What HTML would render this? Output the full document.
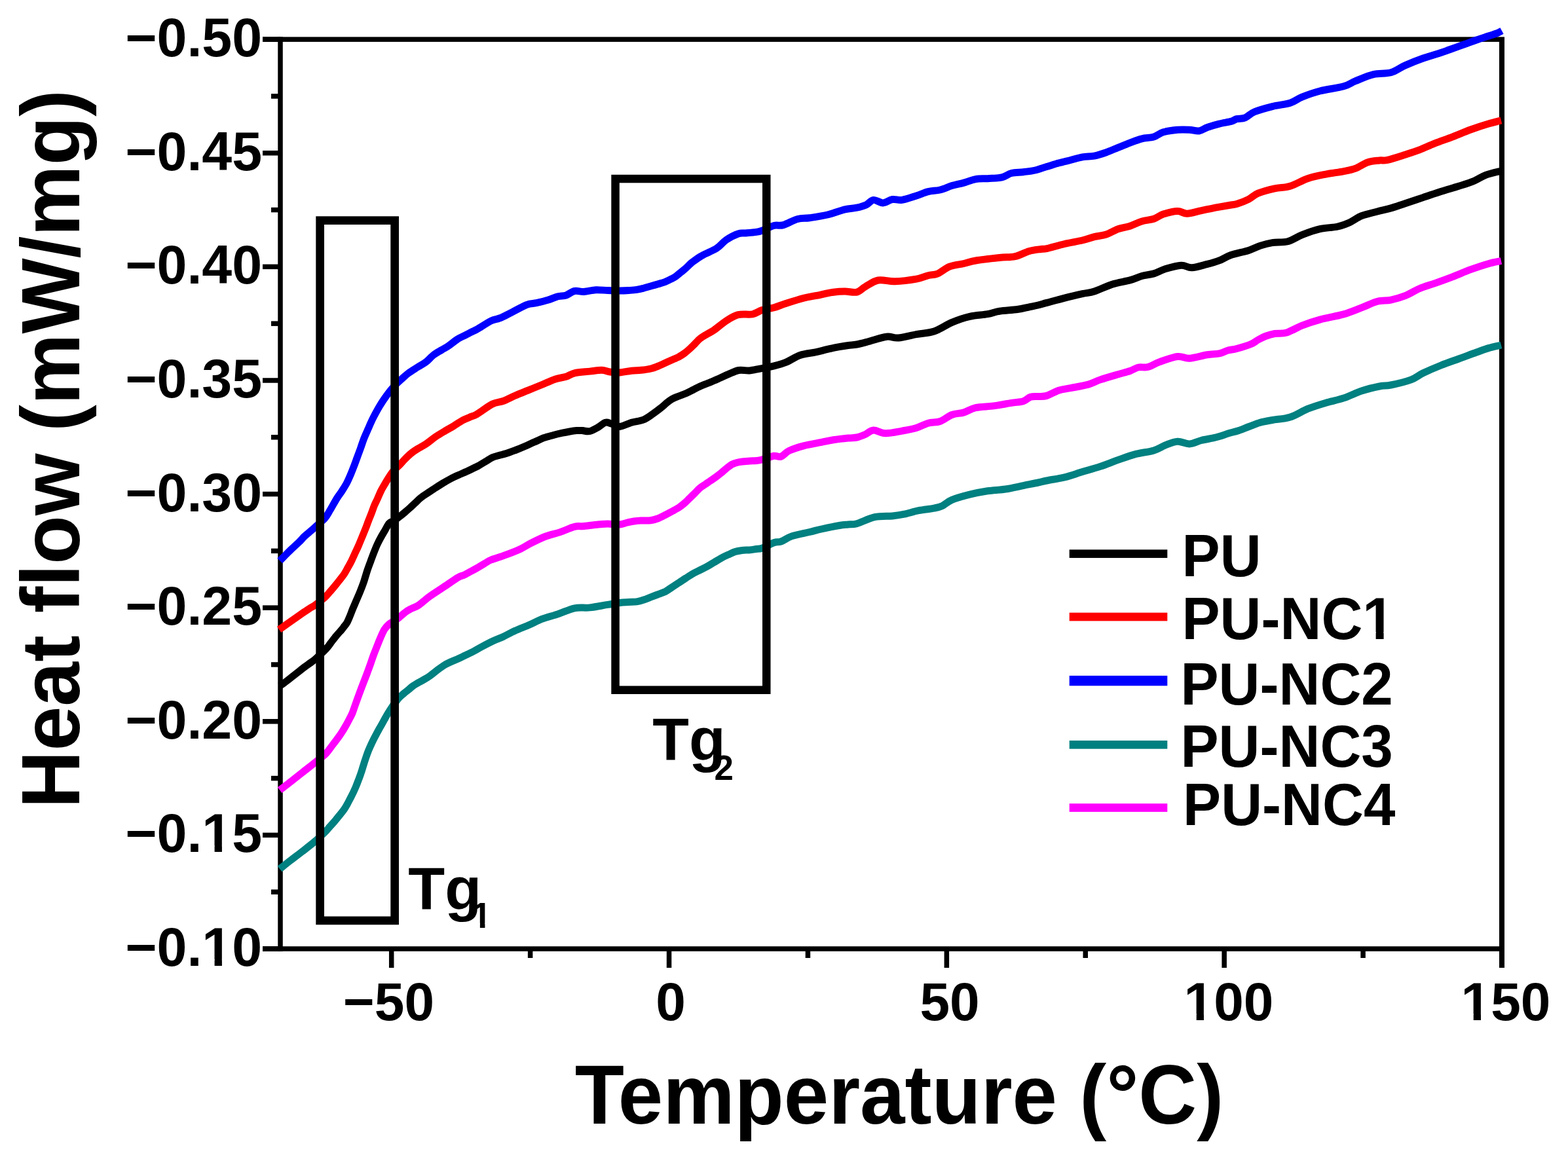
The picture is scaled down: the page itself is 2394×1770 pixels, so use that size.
<!DOCTYPE html>
<html><head><meta charset="utf-8"><title>Heat flow DSC</title>
<style>html,body{margin:0;padding:0;background:#fff;}svg{display:block;}</style>
</head><body>
<svg xmlns="http://www.w3.org/2000/svg" width="2394" height="1770" viewBox="0 0 2394 1770">
<rect width="2394" height="1770" fill="#fff"/>
<g fill="#000">
<rect x="401" y="56.40" width="1896.00" height="7.5"/>
<rect x="401" y="1445.25" width="1896.00" height="7.5"/>
<rect x="424.25" y="56.40" width="7.5" height="1396.35"/>
<rect x="2289.00" y="58.65" width="8" height="1419.35"/>
<rect x="401" y="56.40" width="27.00" height="7.5"/>
<rect x="401" y="230.00" width="27.00" height="7.5"/>
<rect x="401" y="403.61" width="27.00" height="7.5"/>
<rect x="401" y="577.22" width="27.00" height="7.5"/>
<rect x="401" y="750.82" width="27.00" height="7.5"/>
<rect x="401" y="924.42" width="27.00" height="7.5"/>
<rect x="401" y="1098.03" width="27.00" height="7.5"/>
<rect x="401" y="1271.64" width="27.00" height="7.5"/>
<rect x="401" y="1445.24" width="27.00" height="7.5"/>
<rect x="414" y="143.20" width="14.00" height="7.5"/>
<rect x="414" y="316.81" width="14.00" height="7.5"/>
<rect x="414" y="490.41" width="14.00" height="7.5"/>
<rect x="414" y="664.02" width="14.00" height="7.5"/>
<rect x="414" y="837.62" width="14.00" height="7.5"/>
<rect x="414" y="1011.23" width="14.00" height="7.5"/>
<rect x="414" y="1184.83" width="14.00" height="7.5"/>
<rect x="414" y="1358.44" width="14.00" height="7.5"/>
<rect x="593.95" y="1449.00" width="7.5" height="29.00"/>
<rect x="1017.78" y="1449.00" width="7.5" height="29.00"/>
<rect x="1441.60" y="1449.00" width="7.5" height="29.00"/>
<rect x="1865.42" y="1449.00" width="7.5" height="29.00"/>
<rect x="805.86" y="1449.00" width="7.5" height="14.00"/>
<rect x="1229.69" y="1449.00" width="7.5" height="14.00"/>
<rect x="1653.51" y="1449.00" width="7.5" height="14.00"/>
<rect x="2077.34" y="1449.00" width="7.5" height="14.00"/>
</g>
<g fill="none" stroke-width="11" stroke-linejoin="round" stroke-linecap="butt">
<path stroke="#008080" d="M427.1,1327.0C429.9,1324.8 437.9,1318.4 443.6,1314.0C449.3,1309.6 455.0,1305.4 461.3,1300.5C467.6,1295.6 475.6,1289.5 481.4,1284.5C487.2,1279.5 492.6,1274.4 496.3,1270.7C500.0,1267.0 501.1,1265.2 503.5,1262.5C505.9,1259.8 508.4,1257.1 510.8,1254.3C513.2,1251.5 515.6,1248.5 518.0,1245.5C520.4,1242.5 523.3,1239.0 525.3,1236.2C527.3,1233.4 528.5,1231.2 530.0,1228.5C531.5,1225.8 532.9,1222.9 534.4,1220.0C535.9,1217.1 537.5,1214.2 539.0,1211.0C540.5,1207.8 542.2,1204.2 543.5,1201.0C544.8,1197.8 545.8,1195.2 547.0,1192.0C548.2,1188.8 549.5,1185.7 550.7,1182.0C552.0,1178.3 553.3,1173.8 554.5,1170.0C555.7,1166.2 556.8,1162.5 558.0,1159.0C559.2,1155.5 560.3,1152.2 561.5,1149.0C562.7,1145.8 563.9,1143.2 565.3,1140.0C566.7,1136.8 568.5,1133.0 570.0,1130.0C571.5,1127.0 572.8,1124.6 574.3,1121.8C575.8,1119.0 577.5,1115.7 579.0,1113.0C580.5,1110.3 581.9,1108.1 583.4,1105.4C584.9,1102.7 586.5,1099.7 588.0,1097.0C589.5,1094.3 590.8,1091.8 592.5,1089.1C594.2,1086.3 596.2,1083.2 598.0,1080.5C599.8,1077.8 601.7,1075.4 603.5,1073.0C605.3,1070.6 606.8,1068.2 608.9,1066.0C611.0,1063.8 613.6,1061.6 616.0,1059.5C618.4,1057.4 621.1,1055.4 623.4,1053.5C625.7,1051.6 627.6,1049.8 630.0,1048.0C632.4,1046.2 635.1,1044.7 637.9,1043.0C640.7,1041.3 644.0,1039.8 647.0,1038.0C650.0,1036.2 651.0,1036.1 656.1,1032.4C661.2,1028.8 670.6,1020.5 677.9,1016.1C685.1,1011.7 694.2,1008.5 699.6,1006.0C705.0,1003.5 706.2,1002.8 710.0,1001.0C713.8,999.2 718.3,997.2 722.5,995.0C726.7,992.8 730.0,990.7 735.0,988.0C740.0,985.3 747.0,981.6 752.5,979.0C758.0,976.4 762.5,975.0 768.1,972.4C773.7,969.8 779.6,966.3 786.3,963.3C793.0,960.3 801.1,957.3 808.1,954.3C815.1,951.3 820.8,947.9 828.0,945.2C835.2,942.5 843.4,940.6 851.6,937.9C859.8,935.2 868.9,930.5 877.1,928.8C885.3,927.1 892.2,928.8 900.7,927.9C909.2,927.0 920.3,924.6 927.9,923.4C935.5,922.2 941.0,921.1 946.4,920.5C951.8,919.9 955.7,919.8 960.0,919.5C964.3,919.2 968.4,919.5 972.2,918.9C976.0,918.3 979.4,917.2 983.0,916.0C986.6,914.8 990.2,913.2 993.7,911.9C997.2,910.6 1000.4,909.4 1004.0,908.0C1007.6,906.6 1011.7,905.5 1015.2,903.8C1018.7,902.0 1021.4,899.8 1025.0,897.5C1028.6,895.2 1032.9,892.3 1036.6,889.9C1040.3,887.5 1043.4,885.3 1047.0,883.0C1050.6,880.7 1054.4,878.1 1058.1,876.0C1061.8,873.9 1065.4,872.3 1069.0,870.5C1072.6,868.7 1076.1,867.1 1079.6,865.2C1083.1,863.3 1086.4,861.1 1090.0,859.0C1093.6,856.9 1097.4,854.3 1101.1,852.3C1104.8,850.3 1108.4,848.6 1112.0,847.0C1115.6,845.4 1119.0,843.7 1122.5,842.6C1126.0,841.5 1129.4,841.0 1133.0,840.5C1136.6,840.0 1140.5,840.2 1144.0,839.9C1147.5,839.6 1150.8,839.0 1154.0,838.5C1157.2,838.0 1158.8,838.8 1163.4,837.2C1168.0,835.6 1176.8,830.5 1181.6,828.8C1186.4,827.1 1188.0,828.6 1192.5,827.0C1197.0,825.4 1201.5,821.3 1208.8,818.9C1216.1,816.5 1228.5,814.3 1236.1,812.5C1243.7,810.7 1246.6,809.7 1254.2,808.0C1261.8,806.3 1274.7,803.7 1281.5,802.5C1288.3,801.3 1290.5,801.5 1295.0,801.0C1299.5,800.5 1301.5,801.6 1308.2,799.7C1314.9,797.8 1326.3,791.7 1335.4,789.7C1344.5,787.7 1355.0,788.6 1362.6,787.9C1370.2,787.1 1374.1,786.6 1380.8,785.2C1387.5,783.8 1395.0,781.2 1402.6,779.7C1410.2,778.2 1420.2,777.3 1426.2,776.1C1432.2,774.9 1434.4,774.6 1438.9,772.5C1443.4,770.4 1446.4,766.3 1453.4,763.4C1460.4,760.5 1471.6,757.5 1480.7,755.2C1489.8,752.9 1498.8,751.2 1507.9,749.8C1517.0,748.4 1526.0,748.4 1535.1,747.0C1544.2,745.6 1554.1,743.3 1562.4,741.6C1570.7,739.9 1579.0,738.3 1585.0,737.0C1591.0,735.7 1591.5,735.4 1598.2,734.0C1604.9,732.6 1616.3,731.0 1625.4,728.8C1634.5,726.6 1643.5,723.3 1652.6,720.6C1661.7,717.9 1670.8,715.4 1679.9,712.4C1689.0,709.4 1698.0,705.6 1707.1,702.4C1716.2,699.2 1725.2,695.8 1734.3,693.4C1743.4,691.0 1754.0,690.2 1761.6,687.9C1769.2,685.6 1773.7,682.0 1779.7,679.7C1785.8,677.4 1791.8,674.6 1797.9,674.3C1804.0,674.0 1810.0,678.2 1816.1,677.9C1822.1,677.6 1828.2,674.0 1834.2,672.5C1840.2,671.0 1847.5,670.0 1852.4,668.9C1857.3,667.8 1859.6,667.1 1863.4,666.0C1867.2,664.9 1870.5,663.4 1875.0,662.0C1879.5,660.6 1885.3,659.5 1890.6,657.7C1895.9,656.0 1901.5,653.5 1907.0,651.5C1912.5,649.5 1917.4,647.2 1923.3,645.5C1929.2,643.8 1934.8,642.9 1942.6,641.5C1950.4,640.1 1960.8,639.9 1969.9,637.0C1979.0,634.1 1988.0,627.8 1997.1,624.2C2006.2,620.6 2015.2,617.9 2024.3,615.2C2033.4,612.5 2042.5,610.9 2051.6,607.9C2060.7,604.9 2069.7,600.0 2078.8,597.0C2087.9,594.0 2098.6,591.5 2106.1,590.0C2113.6,588.5 2115.5,589.7 2123.6,588.0C2131.7,586.3 2146.3,582.8 2154.5,579.8C2162.7,576.8 2165.1,573.4 2172.7,569.8C2180.3,566.2 2190.8,561.6 2199.9,558.0C2209.0,554.4 2218.1,551.3 2227.2,548.0C2236.3,544.7 2246.8,540.7 2254.4,538.0C2262.0,535.3 2266.3,533.4 2272.6,531.6C2278.9,529.8 2288.8,527.8 2292.0,527.0"/>
<path stroke="#FF00FF" d="M427.1,1206.7C429.9,1204.6 437.9,1198.5 443.6,1194.0C449.3,1189.5 455.0,1185.0 461.3,1180.0C467.6,1175.0 475.3,1169.1 481.4,1164.2C487.5,1159.3 493.6,1154.8 497.9,1150.5C502.2,1146.2 503.8,1142.9 507.2,1138.5C510.6,1134.1 515.3,1127.9 518.1,1124.0C520.9,1120.1 522.2,1117.9 524.0,1115.0C525.8,1112.1 527.3,1109.5 529.0,1106.5C530.7,1103.5 532.5,1099.9 534.0,1097.0C535.5,1094.1 536.7,1092.1 538.0,1089.0C539.3,1085.9 540.0,1083.2 541.7,1078.5C543.4,1073.8 545.9,1066.8 548.0,1061.0C550.1,1055.2 552.4,1049.2 554.4,1044.0C556.4,1038.8 558.2,1034.3 560.0,1029.5C561.8,1024.7 563.5,1019.9 565.3,1015.0C567.0,1010.1 568.7,1004.9 570.5,1000.0C572.3,995.1 574.4,990.1 576.2,985.5C578.0,980.9 579.7,976.6 581.5,972.5C583.3,968.4 585.0,964.2 587.1,961.0C589.2,957.8 591.9,955.1 594.3,953.0C596.7,950.9 599.1,950.1 601.5,948.5C603.9,946.9 605.9,945.8 608.9,943.4C611.9,941.0 616.5,936.7 619.7,934.4C622.9,932.1 625.0,931.1 628.0,929.5C631.0,927.9 634.7,926.9 637.9,925.0C641.1,923.1 644.0,920.4 647.0,918.0C650.0,915.6 651.0,914.3 656.1,910.7C661.2,907.1 670.6,901.0 677.9,896.2C685.1,891.4 694.4,884.7 699.6,881.7C704.8,878.7 705.6,879.6 709.0,878.0C712.4,876.4 716.5,873.9 720.0,872.0C723.5,870.1 726.7,868.4 730.0,866.5C733.3,864.6 736.7,862.4 740.0,860.5C743.3,858.6 745.1,856.9 749.8,855.0C754.5,853.1 761.1,851.4 768.1,848.9C775.1,846.4 784.4,843.1 791.7,839.8C799.0,836.5 804.7,832.5 811.7,829.0C818.7,825.5 826.2,821.7 833.5,819.0C840.8,816.3 848.0,815.0 855.3,812.6C862.6,810.2 871.0,805.9 877.1,804.4C883.2,802.9 885.2,804.1 891.6,803.5C898.0,802.9 909.2,801.4 915.2,800.8C921.2,800.2 922.8,799.9 927.9,799.9C933.0,799.9 941.1,801.3 946.1,801.0C951.1,800.7 954.4,798.8 958.0,798.0C961.6,797.2 964.5,796.5 968.0,796.0C971.5,795.5 974.5,795.2 978.7,795.0C982.9,794.8 989.1,795.2 993.3,794.7C997.5,794.2 1000.4,793.3 1004.0,792.0C1007.6,790.7 1011.7,788.5 1015.2,786.7C1018.7,785.0 1021.4,783.5 1025.0,781.5C1028.6,779.5 1033.3,777.2 1036.6,775.0C1039.9,772.8 1042.3,770.8 1045.0,768.5C1047.7,766.2 1050.1,763.6 1052.8,761.0C1055.5,758.4 1058.3,755.7 1061.0,753.0C1063.7,750.3 1066.2,747.2 1068.9,745.0C1071.6,742.8 1074.3,741.3 1077.0,739.5C1079.7,737.7 1082.3,735.8 1085.0,734.0C1087.7,732.2 1090.3,730.5 1093.0,728.5C1095.7,726.5 1098.4,724.5 1101.1,722.3C1103.8,720.1 1106.3,717.6 1109.0,715.5C1111.7,713.4 1114.5,710.9 1117.2,709.4C1119.9,707.9 1122.3,707.2 1125.0,706.5C1127.7,705.8 1129.9,705.4 1133.3,705.0C1136.7,704.6 1141.7,704.2 1145.3,704.0C1148.9,703.8 1151.8,703.8 1154.8,703.5C1157.8,703.2 1158.9,703.2 1163.4,702.0C1167.9,700.8 1176.8,697.1 1181.6,696.3C1186.4,695.5 1188.6,698.6 1192.5,697.2C1196.4,695.8 1199.5,690.8 1205.2,688.1C1211.0,685.4 1218.8,682.9 1227.0,680.8C1235.2,678.7 1246.6,676.9 1254.2,675.4C1261.8,673.9 1265.6,672.9 1272.4,671.8C1279.2,670.7 1289.0,669.6 1295.0,669.0C1301.0,668.4 1303.9,668.9 1308.2,668.0C1312.5,667.1 1316.7,665.3 1320.9,663.5C1325.1,661.7 1328.5,657.4 1333.6,657.1C1338.7,656.8 1344.4,661.5 1351.7,661.7C1359.0,661.9 1369.3,659.5 1377.2,658.1C1385.1,656.7 1392.3,655.5 1399.0,653.5C1405.7,651.5 1411.0,648.0 1417.1,646.3C1423.1,644.6 1429.2,645.6 1435.3,643.5C1441.3,641.4 1447.4,635.8 1453.4,633.5C1459.5,631.2 1465.5,631.7 1471.6,629.9C1477.6,628.1 1482.1,624.3 1489.7,622.6C1497.3,620.9 1507.9,621.1 1517.0,619.9C1526.1,618.7 1536.6,616.6 1544.2,615.4C1551.8,614.2 1557.6,614.2 1562.4,612.7C1567.2,611.2 1569.5,607.5 1573.3,606.3C1577.1,605.1 1580.8,605.8 1585.0,605.5C1589.2,605.2 1593.0,605.9 1598.2,604.4C1603.4,602.9 1610.2,598.2 1616.3,596.2C1622.3,594.2 1626.9,594.1 1634.5,592.6C1642.1,591.1 1654.1,589.2 1661.7,587.1C1669.3,585.0 1672.3,582.5 1679.9,579.9C1687.5,577.3 1699.5,573.9 1707.1,571.7C1714.7,569.5 1720.1,568.3 1725.3,566.5C1730.5,564.7 1733.5,562.0 1738.0,561.0C1742.5,560.0 1747.0,561.9 1752.5,560.5C1758.0,559.1 1763.1,555.3 1770.7,552.6C1778.3,549.9 1790.3,545.4 1797.9,544.5C1805.5,543.6 1808.5,547.7 1816.1,547.2C1823.7,546.7 1835.7,542.9 1843.3,541.7C1850.9,540.5 1856.2,541.0 1861.5,539.9C1866.8,538.8 1870.5,536.2 1875.0,535.0C1879.5,533.8 1882.4,534.1 1888.2,532.5C1894.0,530.9 1904.6,527.8 1910.0,525.5C1915.4,523.2 1917.1,521.0 1920.8,519.0C1924.5,517.0 1927.8,515.1 1932.0,513.5C1936.2,511.9 1940.9,510.4 1946.3,509.5C1951.7,508.6 1957.5,510.1 1964.4,508.0C1971.4,505.9 1979.5,500.4 1988.0,497.1C1996.5,493.8 2004.7,491.0 2015.3,488.1C2025.9,485.2 2041.0,482.9 2051.6,479.9C2062.2,476.9 2070.3,473.1 2078.8,469.9C2087.3,466.7 2094.9,462.5 2102.4,460.5C2109.9,458.5 2116.4,459.6 2123.6,458.1C2130.8,456.6 2138.1,454.6 2145.4,451.7C2152.7,448.8 2159.6,444.0 2167.2,440.8C2174.8,437.6 2182.3,435.6 2190.8,432.6C2199.3,429.6 2209.0,426.1 2218.1,422.6C2227.2,419.1 2236.2,415.0 2245.3,411.7C2254.4,408.4 2264.8,404.9 2272.6,402.7C2280.4,400.5 2288.8,399.2 2292.0,398.5"/>
<path stroke="#000000" d="M427.6,1047.4C429.5,1046.0 435.1,1042.1 439.1,1039.0C443.1,1035.9 447.6,1032.3 451.8,1029.0C456.0,1025.7 460.6,1021.9 464.5,1019.0C468.4,1016.1 472.1,1013.7 475.0,1011.5C477.9,1009.3 478.1,1009.5 482.0,1006.0C485.9,1002.5 494.4,994.5 498.1,990.6C501.9,986.7 502.4,985.2 504.5,982.5C506.6,979.8 508.9,976.7 510.8,974.3C512.7,971.9 514.2,970.1 516.0,968.0C517.8,965.9 520.0,963.6 521.7,961.6C523.4,959.6 524.6,957.8 526.0,956.0C527.4,954.2 528.5,953.3 529.9,950.7C531.3,948.1 532.9,944.1 534.4,940.5C535.9,936.9 537.2,933.0 538.9,929.0C540.6,925.0 542.6,920.5 544.4,916.2C546.2,912.0 548.0,908.0 549.8,903.5C551.6,899.0 553.5,894.3 555.3,889.0C557.1,883.7 558.9,877.0 560.7,871.5C562.5,866.0 564.4,861.2 566.2,856.3C568.0,851.4 569.9,846.2 571.6,842.0C573.3,837.8 574.5,834.6 576.2,831.0C577.9,827.4 579.6,824.1 581.6,820.5C583.6,816.9 585.9,813.1 588.0,809.5C590.1,805.9 592.0,801.4 594.3,799.0C596.6,796.6 599.4,796.7 602.0,795.0C604.6,793.3 607.3,791.1 610.0,789.0C612.7,786.9 615.3,784.8 618.0,782.5C620.7,780.2 623.3,777.9 626.0,775.5C628.7,773.1 631.3,770.5 634.0,768.0C636.7,765.5 639.0,762.9 642.0,760.5C645.0,758.1 648.3,756.0 652.0,753.5C655.7,751.0 660.2,748.1 664.2,745.5C668.2,742.9 672.0,740.4 676.0,738.0C680.0,735.6 684.4,733.1 688.4,731.0C692.4,728.9 696.0,727.3 700.0,725.5C704.0,723.7 708.6,721.8 712.6,720.0C716.6,718.2 721.1,715.9 724.0,714.5C726.9,713.1 727.2,713.2 730.0,711.6C732.8,710.0 737.4,707.1 741.0,705.0C744.6,702.9 748.0,700.3 751.5,698.7C755.0,697.1 758.4,696.5 762.0,695.5C765.6,694.5 768.8,693.8 773.0,692.5C777.2,691.2 782.2,689.3 787.0,687.5C791.8,685.7 796.8,683.6 801.6,681.5C806.4,679.4 811.2,677.1 816.0,675.0C820.8,672.9 825.4,670.5 830.2,668.7C835.0,667.0 840.2,665.8 845.0,664.5C849.8,663.2 854.6,662.1 858.8,661.2C863.0,660.3 866.4,659.6 870.0,659.0C873.6,658.4 877.0,657.9 880.3,657.6C883.6,657.4 888.1,657.4 890.0,657.5C891.9,657.6 889.8,657.8 891.6,658.0C893.4,658.2 897.1,659.4 900.7,658.5C904.3,657.6 909.5,654.6 913.4,652.4C917.3,650.2 921.0,646.1 924.3,645.2C927.6,644.3 929.8,646.0 933.4,647.0C937.0,648.0 941.0,651.8 946.1,651.5C951.2,651.2 958.2,647.0 964.2,645.2C970.2,643.5 977.0,643.2 982.4,641.0C987.8,638.8 992.4,635.1 996.9,632.0C1001.4,628.9 1006.0,625.3 1009.6,622.5C1013.2,619.7 1015.5,617.2 1018.2,615.0C1020.9,612.8 1022.9,611.2 1025.9,609.5C1028.9,607.8 1032.7,606.5 1036.3,605.0C1039.9,603.5 1043.8,602.3 1047.4,600.7C1051.0,599.1 1054.4,597.3 1058.0,595.5C1061.6,593.7 1065.2,591.7 1068.9,590.0C1072.6,588.3 1076.4,587.0 1080.0,585.5C1083.6,584.0 1087.0,582.7 1090.3,581.3C1093.6,579.9 1096.4,578.6 1100.0,577.0C1103.6,575.4 1107.1,573.6 1111.8,571.7C1116.5,569.8 1122.5,566.5 1127.9,565.5C1133.3,564.5 1138.6,566.4 1144.0,566.0C1149.4,565.6 1153.8,564.3 1160.1,563.1C1166.4,561.9 1175.0,560.4 1181.6,558.8C1188.2,557.2 1193.0,556.1 1199.7,553.4C1206.4,550.7 1213.9,545.1 1221.5,542.5C1229.1,539.9 1238.1,539.4 1245.1,537.9C1252.1,536.4 1257.2,534.8 1263.3,533.4C1269.4,532.0 1276.2,530.7 1281.5,529.7C1286.8,528.7 1290.5,528.1 1295.0,527.5C1299.5,526.9 1303.0,527.0 1308.2,526.0C1313.4,525.0 1318.7,523.5 1326.3,521.5C1333.9,519.5 1346.0,515.1 1353.6,514.2C1361.2,513.3 1364.1,516.6 1371.7,516.0C1379.3,515.4 1389.9,512.3 1399.0,510.6C1408.1,508.9 1417.1,509.0 1426.2,506.0C1435.3,503.0 1444.3,496.2 1453.4,492.4C1462.5,488.6 1471.6,485.5 1480.7,483.4C1489.8,481.3 1500.3,481.1 1507.9,479.7C1515.5,478.3 1518.5,476.4 1526.1,475.2C1533.7,474.0 1545.7,473.6 1553.3,472.5C1560.9,471.4 1566.2,469.9 1571.5,468.8C1576.8,467.7 1580.5,467.1 1585.0,466.0C1589.5,464.9 1591.5,464.2 1598.2,462.4C1604.9,460.6 1616.3,457.4 1625.4,455.1C1634.5,452.8 1645.0,450.4 1652.6,448.7C1660.2,447.0 1663.2,447.5 1670.8,445.1C1678.4,442.7 1688.9,437.1 1698.0,434.2C1707.1,431.3 1717.7,430.0 1725.3,427.9C1732.9,425.8 1737.4,423.2 1743.4,421.5C1749.5,419.8 1755.5,419.7 1761.6,417.9C1767.6,416.1 1772.7,412.7 1779.7,410.6C1786.7,408.5 1796.7,405.5 1803.4,405.2C1810.1,404.9 1813.1,409.1 1819.7,408.8C1826.3,408.5 1836.3,405.2 1843.3,403.4C1850.3,401.6 1855.5,400.2 1861.5,397.9C1867.5,395.6 1871.8,392.1 1879.3,389.5C1886.8,386.9 1898.8,384.8 1906.3,382.4C1913.8,380.0 1918.5,377.1 1924.5,375.1C1930.5,373.1 1935.6,371.7 1942.6,370.6C1949.5,369.5 1958.6,370.7 1966.2,368.7C1973.8,366.7 1979.8,361.9 1988.0,358.7C1996.2,355.5 2006.2,351.8 2015.3,349.7C2024.4,347.6 2034.9,347.7 2042.5,346.0C2050.1,344.3 2054.6,342.4 2060.7,339.7C2066.8,337.0 2071.8,332.5 2078.8,329.7C2085.9,326.9 2095.5,325.0 2103.0,323.0C2110.5,321.0 2116.5,319.9 2123.6,317.9C2130.7,315.8 2137.2,313.4 2145.4,310.7C2153.6,308.0 2163.6,304.6 2172.7,301.6C2181.8,298.6 2190.8,295.4 2199.9,292.5C2209.0,289.6 2218.7,287.0 2227.2,284.3C2235.7,281.6 2243.9,279.1 2250.8,276.2C2257.8,273.3 2262.0,269.6 2268.9,267.1C2275.8,264.6 2288.2,262.0 2292.0,261.0"/>
<path stroke="#FF0000" d="M426.1,961.5C428.1,960.1 434.2,955.8 438.2,953.0C442.2,950.2 446.3,947.3 450.3,944.5C454.3,941.7 458.4,938.8 462.4,936.0C466.4,933.2 471.3,930.1 474.5,928.0C477.7,925.9 478.1,926.3 481.7,923.6C485.3,920.9 492.7,915.3 496.3,912.0C499.9,908.7 501.1,906.8 503.5,904.0C505.9,901.2 508.4,898.4 510.8,895.5C513.2,892.6 515.6,889.6 518.0,886.5C520.4,883.4 523.1,880.2 525.3,877.0C527.5,873.8 529.2,870.2 531.0,867.0C532.8,863.8 534.5,861.0 536.2,857.5C538.0,854.0 539.7,849.9 541.5,846.0C543.3,842.1 545.3,838.2 547.1,834.0C548.9,829.8 550.7,825.4 552.5,821.0C554.3,816.6 556.3,811.8 558.0,807.5C559.7,803.2 561.0,799.4 562.5,795.5C564.0,791.6 565.6,787.9 567.1,784.0C568.6,780.1 570.0,775.7 571.5,772.0C573.0,768.3 574.5,765.7 576.2,762.0C577.9,758.3 579.7,753.7 581.5,750.0C583.3,746.3 585.3,743.2 587.1,740.0C588.9,736.8 590.7,733.9 592.5,731.0C594.3,728.1 596.1,725.0 598.0,722.5C599.9,720.0 601.9,718.2 604.0,716.0C606.1,713.8 608.5,711.8 610.7,709.5C612.9,707.2 614.9,704.7 617.0,702.5C619.1,700.3 621.2,698.1 623.4,696.1C625.6,694.1 627.6,692.3 630.0,690.5C632.4,688.7 634.5,687.3 637.9,685.2C641.3,683.1 646.1,680.9 650.6,677.9C655.1,674.9 660.2,670.3 665.1,667.0C670.0,663.7 675.2,660.7 679.7,658.0C684.2,655.3 687.9,653.4 692.4,650.7C696.9,648.0 702.4,644.0 706.9,641.6C711.4,639.2 716.0,637.7 719.6,636.2C723.2,634.7 722.8,635.7 728.2,632.5C733.6,629.3 745.1,620.3 751.8,617.0C758.4,613.7 762.4,614.6 768.1,612.5C773.9,610.4 779.9,607.0 786.3,604.3C792.6,601.6 799.6,598.8 806.2,596.1C812.9,593.4 819.2,590.9 826.2,588.0C833.2,585.1 841.6,581.0 848.0,578.9C854.4,576.8 859.4,576.8 864.3,575.3C869.1,573.8 871.0,571.2 877.1,569.8C883.2,568.4 893.8,567.9 900.7,567.1C907.7,566.4 913.7,565.1 918.8,565.3C923.9,565.4 927.0,567.4 931.5,568.0C936.0,568.6 940.6,569.2 946.1,568.9C951.6,568.6 958.8,566.8 964.2,566.2C969.6,565.6 973.8,565.8 978.7,565.3C983.6,564.8 989.5,564.0 993.7,563.0C997.9,562.0 1000.4,560.9 1004.0,559.5C1007.6,558.1 1011.7,556.1 1015.2,554.5C1018.7,552.9 1021.4,551.6 1025.0,550.0C1028.6,548.4 1033.3,546.5 1036.6,544.8C1039.9,543.0 1042.3,541.5 1045.0,539.5C1047.7,537.5 1050.1,535.4 1052.8,533.0C1055.5,530.6 1058.3,527.7 1061.0,525.0C1063.7,522.3 1065.7,519.5 1068.9,517.0C1072.1,514.5 1076.4,512.2 1080.0,510.0C1083.6,507.8 1085.5,507.4 1090.3,504.0C1095.1,500.6 1102.9,493.7 1109.0,489.8C1115.1,485.9 1120.4,482.4 1127.1,480.7C1133.8,479.0 1142.9,481.0 1148.9,479.8C1155.0,478.6 1158.0,475.2 1163.4,473.5C1168.9,471.8 1175.5,471.5 1181.6,469.8C1187.6,468.1 1192.1,465.9 1199.7,463.5C1207.3,461.1 1219.4,457.3 1227.0,455.3C1234.6,453.3 1237.5,453.2 1245.1,451.7C1252.7,450.2 1264.9,447.3 1272.4,446.2C1279.9,445.1 1284.0,445.0 1290.0,445.0C1296.0,445.0 1303.0,447.3 1308.2,446.1C1313.4,444.9 1315.5,441.0 1320.9,438.0C1326.3,435.0 1333.2,429.4 1340.8,428.0C1348.4,426.6 1356.6,430.1 1366.3,429.8C1376.0,429.5 1390.5,427.7 1399.0,426.2C1407.5,424.7 1411.7,422.1 1417.1,420.7C1422.5,419.3 1426.1,420.3 1431.6,418.0C1437.0,415.7 1443.1,409.7 1449.8,407.1C1456.5,404.5 1464.9,404.0 1471.6,402.5C1478.2,401.0 1480.6,399.5 1489.7,398.0C1498.8,396.5 1516.1,394.6 1526.1,393.5C1536.1,392.4 1542.1,393.4 1549.7,391.7C1557.3,390.0 1564.8,385.4 1571.5,383.5C1578.2,381.6 1585.1,381.1 1589.6,380.5C1594.0,379.9 1592.2,381.0 1598.2,379.7C1604.2,378.4 1616.3,374.6 1625.4,372.5C1634.5,370.4 1645.0,368.8 1652.6,367.0C1660.2,365.2 1664.7,363.1 1670.8,361.6C1676.9,360.1 1683.0,360.0 1689.0,358.0C1695.0,356.0 1701.0,351.9 1707.1,349.8C1713.1,347.7 1719.2,347.2 1725.3,345.2C1731.3,343.2 1737.4,339.8 1743.4,338.0C1749.5,336.2 1756.1,336.1 1761.6,334.3C1767.0,332.5 1770.0,329.1 1776.1,327.1C1782.1,325.1 1791.9,322.6 1797.9,322.5C1804.0,322.4 1806.4,326.3 1812.4,326.2C1818.5,326.1 1826.0,323.3 1834.2,321.6C1842.4,319.9 1853.9,317.6 1861.5,316.2C1869.1,314.8 1875.1,313.8 1879.6,313.0C1884.0,312.2 1883.8,312.9 1888.2,311.5C1892.7,310.1 1900.9,307.0 1906.3,304.3C1911.7,301.6 1914.1,297.9 1920.8,295.2C1927.5,292.5 1938.1,289.7 1946.3,287.9C1954.5,286.1 1961.4,286.9 1969.9,284.3C1978.4,281.7 1988.0,275.5 1997.1,272.5C2006.2,269.5 2015.2,267.9 2024.3,266.1C2033.4,264.3 2044.0,263.1 2051.6,261.6C2059.2,260.1 2063.6,259.4 2069.7,257.1C2075.8,254.8 2081.8,250.0 2087.9,248.0C2094.0,246.0 2101.1,245.6 2106.1,245.0C2111.1,244.4 2111.6,245.9 2118.2,244.4C2124.8,242.9 2137.2,238.8 2145.4,236.2C2153.6,233.6 2159.6,231.8 2167.2,228.9C2174.8,226.0 2182.3,222.2 2190.8,218.9C2199.3,215.6 2209.0,212.4 2218.1,208.9C2227.2,205.4 2236.2,201.3 2245.3,198.0C2254.4,194.7 2264.8,191.3 2272.6,189.0C2280.4,186.7 2288.8,184.8 2292.0,184.0"/>
<path stroke="#0000FF" d="M427.3,856.3C428.8,854.8 433.3,850.2 436.0,847.5C438.7,844.8 440.2,843.1 443.6,839.9C447.0,836.7 452.7,831.6 456.3,828.1C459.9,824.6 462.0,821.9 465.0,819.0C468.0,816.1 471.7,813.3 474.5,810.9C477.3,808.5 478.1,807.8 481.7,804.5C485.3,801.2 492.6,795.2 496.3,791.0C500.0,786.8 501.0,784.0 504.0,779.0C507.0,774.0 511.4,765.8 514.4,761.0C517.4,756.2 519.6,753.8 522.0,750.0C524.4,746.2 526.8,742.6 529.0,738.5C531.2,734.4 533.2,729.7 535.0,725.5C536.8,721.3 538.1,717.8 539.8,713.5C541.5,709.2 543.2,704.4 545.0,699.5C546.8,694.6 548.9,689.1 550.7,684.0C552.5,678.9 554.2,673.6 556.0,669.0C557.8,664.4 559.9,659.9 561.6,656.1C563.3,652.3 564.5,649.3 566.0,646.0C567.5,642.7 568.4,640.6 570.7,636.2C573.0,631.8 576.5,625.2 579.8,619.8C583.1,614.3 587.1,608.5 590.7,603.5C594.3,598.5 598.0,594.0 601.6,590.0C605.2,586.0 608.9,582.8 612.5,579.5C616.1,576.2 619.2,573.2 623.4,570.0C627.6,566.8 633.4,563.4 637.9,560.5C642.4,557.6 646.7,555.6 650.6,552.6C654.5,549.6 657.6,545.5 661.5,542.5C665.4,539.5 670.3,536.9 674.2,534.5C678.1,532.1 681.2,530.7 685.1,528.0C689.0,525.3 693.6,521.2 697.8,518.5C702.0,515.8 706.9,513.7 710.5,511.8C714.1,509.9 716.5,508.8 719.6,507.2C722.7,505.6 723.9,505.4 729.0,502.5C734.1,499.6 744.1,492.8 750.0,489.9C755.9,487.0 759.1,487.7 764.5,485.4C769.9,483.1 776.0,479.6 782.6,476.3C789.2,473.0 798.3,467.7 804.4,465.4C810.5,463.1 813.5,463.9 819.0,462.7C824.5,461.5 831.7,459.8 837.1,458.1C842.5,456.4 847.1,453.9 851.6,452.7C856.1,451.5 860.0,452.3 864.3,450.9C868.5,449.5 872.5,445.4 877.1,444.5C881.7,443.6 886.2,445.7 891.6,445.4C897.0,445.1 903.7,443.0 909.7,442.7C915.8,442.4 921.8,443.4 927.9,443.6C934.0,443.8 940.8,444.0 946.1,444.0C951.5,444.0 955.6,443.8 960.0,443.5C964.4,443.2 968.4,443.0 972.2,442.4C976.0,441.8 979.4,440.9 983.0,440.0C986.6,439.1 990.2,438.0 993.7,437.0C997.2,436.0 1000.4,435.1 1004.0,434.0C1007.6,432.9 1011.7,431.9 1015.2,430.6C1018.7,429.3 1022.3,427.4 1025.0,426.0C1027.7,424.6 1028.8,424.2 1031.3,422.5C1033.8,420.8 1037.3,417.7 1040.0,415.5C1042.7,413.3 1044.7,411.8 1047.2,409.5C1049.7,407.2 1052.6,404.1 1055.0,402.0C1057.4,399.9 1059.4,398.7 1061.7,397.0C1064.0,395.3 1066.6,393.5 1069.0,392.0C1071.4,390.5 1072.1,390.2 1076.3,388.0C1080.5,385.8 1089.0,382.6 1094.4,379.0C1099.9,375.4 1103.5,370.0 1109.0,366.3C1114.5,362.6 1122.1,358.7 1127.1,357.0C1132.0,355.3 1134.1,356.4 1138.7,356.0C1143.3,355.6 1150.7,355.0 1154.8,354.4C1158.9,353.8 1158.9,353.8 1163.4,352.2C1167.9,350.6 1176.1,345.9 1181.6,344.5C1187.0,343.1 1190.0,345.3 1196.1,343.6C1202.1,341.9 1211.2,336.3 1217.9,334.5C1224.6,332.7 1228.5,333.8 1236.1,332.7C1243.7,331.6 1254.3,330.1 1263.3,328.0C1272.3,325.9 1282.5,321.7 1290.0,319.9C1297.5,318.1 1302.8,318.4 1308.2,317.2C1313.7,316.0 1318.5,314.7 1322.7,312.7C1326.9,310.7 1329.4,305.9 1333.6,305.4C1337.8,304.9 1343.3,310.0 1348.1,309.9C1352.9,309.8 1357.8,305.2 1362.6,304.5C1367.4,303.8 1371.1,306.3 1377.2,305.4C1383.3,304.5 1392.3,301.1 1399.0,299.0C1405.7,296.9 1411.0,294.2 1417.1,292.7C1423.1,291.2 1429.2,291.5 1435.3,290.0C1441.3,288.5 1447.4,285.4 1453.4,283.6C1459.5,281.8 1465.5,280.8 1471.6,279.1C1477.6,277.4 1483.7,274.7 1489.7,273.6C1495.8,272.5 1501.2,273.1 1507.9,272.7C1514.6,272.2 1523.7,272.3 1529.7,270.9C1535.8,269.5 1538.8,265.9 1544.2,264.5C1549.7,263.1 1556.4,263.4 1562.4,262.7C1568.5,261.9 1574.5,261.4 1580.5,260.0C1586.5,258.6 1592.2,256.3 1598.2,254.5C1604.2,252.7 1610.2,250.7 1616.3,249.0C1622.3,247.3 1628.5,246.0 1634.5,244.5C1640.5,243.0 1646.5,241.0 1652.6,239.9C1658.6,238.8 1664.7,239.3 1670.8,238.1C1676.9,236.9 1683.0,234.8 1689.0,232.7C1695.0,230.6 1701.0,227.8 1707.1,225.4C1713.1,223.0 1719.2,220.4 1725.3,218.1C1731.3,215.8 1737.4,213.3 1743.4,211.8C1749.5,210.3 1756.1,210.8 1761.6,209.1C1767.0,207.4 1770.0,203.6 1776.1,201.8C1782.1,200.0 1791.2,198.8 1797.9,198.2C1804.6,197.6 1810.6,197.9 1816.1,198.2C1821.5,198.5 1826.1,200.6 1830.6,200.0C1835.1,199.4 1838.1,196.3 1843.3,194.5C1848.5,192.7 1855.5,190.6 1861.5,189.1C1867.5,187.6 1875.1,186.6 1879.6,185.4C1884.0,184.2 1884.7,182.6 1888.2,181.7C1891.8,180.8 1896.4,181.7 1900.9,179.9C1905.4,178.1 1908.5,173.7 1915.4,170.8C1922.4,167.9 1933.5,164.9 1942.6,162.6C1951.7,160.3 1962.3,159.6 1969.9,157.2C1977.5,154.8 1980.4,151.1 1988.0,148.1C1995.6,145.1 2004.7,141.7 2015.3,139.0C2025.9,136.3 2042.5,134.4 2051.6,131.8C2060.7,129.2 2062.1,126.6 2069.7,123.6C2077.3,120.6 2088.0,115.7 2097.0,113.6C2106.0,111.5 2115.5,113.1 2123.6,110.8C2131.7,108.5 2137.2,103.5 2145.4,99.9C2153.6,96.3 2163.6,92.2 2172.7,89.0C2181.8,85.8 2193.2,82.7 2199.9,80.5C2206.6,78.3 2206.6,78.2 2212.6,76.0C2218.6,73.8 2229.2,70.0 2236.2,67.5C2243.2,65.0 2248.3,63.1 2254.4,61.0C2260.5,58.9 2267.5,56.7 2272.6,55.0C2277.7,53.3 2281.6,52.3 2285.0,51.0C2288.4,49.7 2291.7,47.7 2293.0,47.0"/>
</g>
<g fill="none" stroke="#000">
<rect x="488.65" y="336.65" width="114" height="1069.2" stroke-width="12.7"/>
<rect x="939.55" y="273.05" width="230.7" height="780.7" stroke-width="12.5"/>
</g>
<g style="font-family:'Liberation Sans',Arial,sans-serif;font-weight:bold;font-size:82.5px" text-anchor="end" fill="#000">
<text x="400.1" y="86.2">−0.50</text>
<text x="400.1" y="259.8">−0.45</text>
<text x="400.1" y="433.4">−0.40</text>
<text x="400.1" y="607.0">−0.35</text>
<text x="400.1" y="780.6">−0.30</text>
<text x="400.1" y="954.2">−0.25</text>
<text x="400.1" y="1127.8">−0.20</text>
<text id="t1_1" class="has1" x="400.1" y="1301.4" mask="url(#m_t1_1)">−0.15</text>
<text id="t1_2" class="has1" x="400.1" y="1475.0" mask="url(#m_t1_2)">−0.10</text>
</g>
<g style="font-family:'Liberation Sans',Arial,sans-serif;font-weight:bold;font-size:82px" text-anchor="middle" fill="#000">
<text x="593.5" y="1558.3">−50</text>
<text x="1024" y="1558.3">0</text>
<text x="1450" y="1558.3">50</text>
<text id="t1_3" class="has1" x="1876" y="1558.3" mask="url(#m_t1_3)">100</text>
<text id="t1_4" class="has1" x="2299" y="1558.3" mask="url(#m_t1_4)">150</text>
</g>
<text transform="translate(877.7,1716) scale(0.963,1)" style="font-family:'Liberation Sans',Arial,sans-serif;font-weight:bold;font-size:127.8px" fill="#000">Temperature (°C)</text>
<text transform="translate(121.3,1234.5) rotate(-90) scale(0.964,1)" style="font-family:'Liberation Sans',Arial,sans-serif;font-weight:bold;font-size:126.5px" fill="#000">Heat flow (mW/mg)</text>
<rect x="1632.7" y="839.35" width="149.6" height="12.7" fill="#000000"/>
<text transform="translate(1804.6,880.2) scale(0.95,1)" style="font-family:'Liberation Sans',Arial,sans-serif;font-weight:bold;font-size:91.7px" fill="#000">PU</text>
<rect x="1632.7" y="935.65" width="149.6" height="12.7" fill="#FF0000"/>
<text id="t1_5" class="has1" transform="translate(1804.5,976.1) scale(0.95,1)" style="font-family:'Liberation Sans',Arial,sans-serif;font-weight:bold;font-size:91.7px" fill="#000" mask="url(#m_t1_5)">PU-NC1</text>
<rect x="1632.7" y="1031.90" width="149.6" height="15.4" fill="#0000FF"/>
<text transform="translate(1802.5,1075.5) scale(0.95,1)" style="font-family:'Liberation Sans',Arial,sans-serif;font-weight:bold;font-size:91.7px" fill="#000">PU-NC2</text>
<rect x="1632.7" y="1130.95" width="149.6" height="12.7" fill="#008080"/>
<text transform="translate(1802.5,1170.9) scale(0.95,1)" style="font-family:'Liberation Sans',Arial,sans-serif;font-weight:bold;font-size:91.7px" fill="#000">PU-NC3</text>
<rect x="1632.7" y="1227.15" width="149.6" height="12.7" fill="#FF00FF"/>
<text transform="translate(1806.1,1260.2) scale(0.95,1)" style="font-family:'Liberation Sans',Arial,sans-serif;font-weight:bold;font-size:91.7px" fill="#000">PU-NC4</text>
<text id="t1_6" class="has1" x="623.3" y="1389.4" style="font-family:'Liberation Sans',Arial,sans-serif;font-weight:bold;font-size:91.5px" fill="#000" mask="url(#m_t1_6)">Tg<tspan dx="-15" dy="27.7" style="font-size:54.8px">1</tspan></text>
<text x="996.3" y="1161.1" style="font-family:'Liberation Sans',Arial,sans-serif;font-weight:bold;font-size:91.1px" fill="#000">Tg<tspan dx="-17" dy="30.2" style="font-size:52.9px">2</tspan></text>
<defs><mask id="m_t1_1" maskUnits="userSpaceOnUse" x="-3000" y="-3000" width="8000" height="8000"><rect x="-3000" y="-3000" width="8000" height="8000" fill="#fff"/><rect x="311.35" y="1291.38" width="16.23" height="11.62" fill="#000"/><rect x="338.89" y="1291.38" width="15.14" height="11.62" fill="#000"/></mask><mask id="m_t1_2" maskUnits="userSpaceOnUse" x="-3000" y="-3000" width="8000" height="8000"><rect x="-3000" y="-3000" width="8000" height="8000" fill="#fff"/><rect x="311.35" y="1464.98" width="16.23" height="11.62" fill="#000"/><rect x="338.89" y="1464.98" width="15.14" height="11.62" fill="#000"/></mask><mask id="m_t1_3" maskUnits="userSpaceOnUse" x="-3000" y="-3000" width="8000" height="8000"><rect x="-3000" y="-3000" width="8000" height="8000" fill="#fff"/><rect x="1810.59" y="1548.33" width="16.13" height="11.57" fill="#000"/><rect x="1837.98" y="1548.33" width="15.05" height="11.57" fill="#000"/></mask><mask id="m_t1_4" maskUnits="userSpaceOnUse" x="-3000" y="-3000" width="8000" height="8000"><rect x="-3000" y="-3000" width="8000" height="8000" fill="#fff"/><rect x="2233.59" y="1548.33" width="16.13" height="11.57" fill="#000"/><rect x="2260.98" y="1548.33" width="15.05" height="11.57" fill="#000"/></mask><mask id="m_t1_5" maskUnits="userSpaceOnUse" x="-3000" y="-3000" width="8000" height="8000"><rect x="-3000" y="-3000" width="8000" height="8000" fill="#fff"/><rect x="293.78" y="-10.96" width="17.93" height="12.56" fill="#000"/><rect x="324.29" y="-10.96" width="16.72" height="12.56" fill="#000"/></mask><mask id="m_t1_6" maskUnits="userSpaceOnUse" x="-3000" y="-3000" width="8000" height="8000"><rect x="-3000" y="-3000" width="8000" height="8000" fill="#fff"/><rect x="721.77" y="1409.91" width="11.11" height="8.79" fill="#000"/><rect x="740.41" y="1409.91" width="10.39" height="8.79" fill="#000"/></mask></defs>
</svg>
</body></html>
